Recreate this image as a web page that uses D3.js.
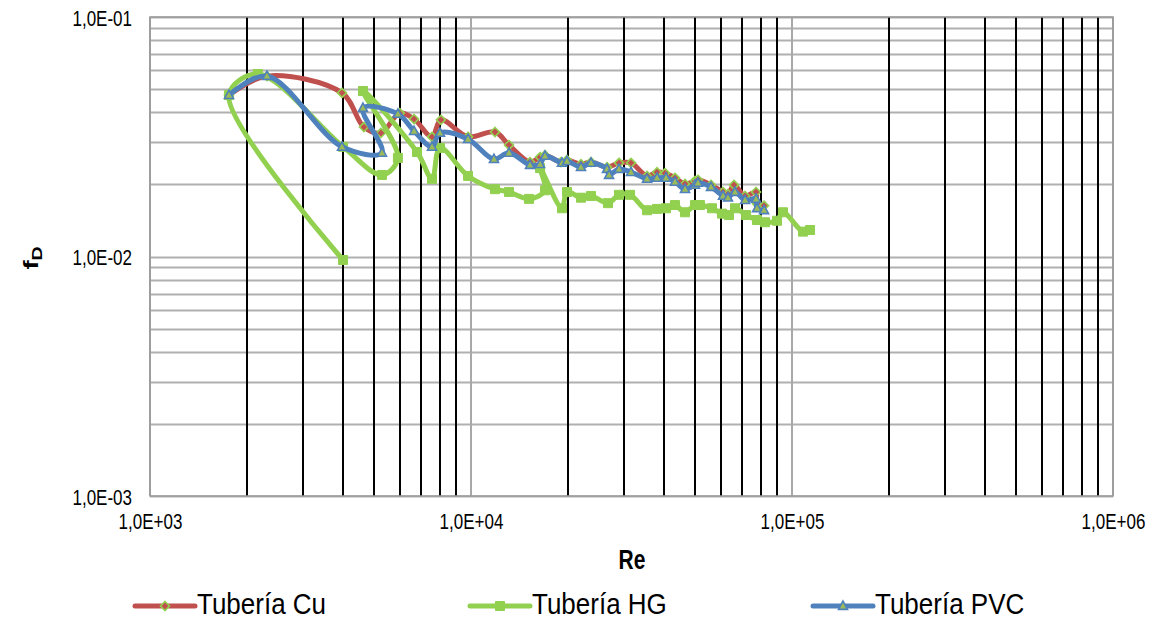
<!DOCTYPE html>
<html><head><meta charset="utf-8">
<script src="https://cdn.jsdelivr.net/npm/d3@7"></script>
<style>body{margin:0;background:#fff}</style>
</head><body><svg id="c" width="1160" height="620"></svg>
<script>
const seriesNames = ["Tubería Cu", "Tubería HG", "Tubería PVC"];
const xTickLabels = ["1,0E+03", "1,0E+04", "1,0E+05", "1,0E+06"];
const yTickLabels = ["1,0E-03", "1,0E-02", "1,0E-01"];

const cuRe = [1762,2314,3964,4640,5240,6000,6645,7560,8060,9790,11880,13130,15270,16410,17000,19070,19910,22010,23650,26530,28920,31510,35350,37970,40220,43200,46420,49860,50950,55930,60960,63180,65960,71410,77270,77800,81830];
const cuF  = [0.0472,0.0567,0.0482,0.0347,0.0328,0.0397,0.0375,0.0316,0.0372,0.0316,0.0331,0.0292,0.0248,0.0260,0.0265,0.0248,0.0253,0.0243,0.0248,0.0236,0.0246,0.0246,0.0217,0.0225,0.0223,0.0213,0.0201,0.0207,0.0209,0.0199,0.0186,0.0182,0.0199,0.0179,0.0186,0.0166,0.0163];

const hgRe = [3993,1762,2169,3993,5281,5920,4608,6790,7560,8006,9790,11880,13130,15160,17000,16410,19210,19910,22010,23650,26720,28920,31290,35350,37970,40510,43200,46420,49860,51680,56330,60520,63640,66440,71920,77800,82410,89810,93750,108200,113800];
const hgF  = [0.00967,0.0472,0.0578,0.0287,0.0219,0.0258,0.0491,0.0273,0.0211,0.0284,0.0217,0.0191,0.0186,0.0174,0.0189,0.0234,0.0159,0.0186,0.0176,0.0179,0.0167,0.0181,0.0181,0.0156,0.0158,0.0159,0.0164,0.0153,0.0164,0.0164,0.0159,0.0151,0.0149,0.0159,0.0149,0.0142,0.0139,0.0141,0.0153,0.0127,0.0129];

const pvcRe = [1762,2314,3964,5281,4608,5920,6645,7560,8006,9790,11790,13130,15270,16410,17000,19210,19910,22010,23650,26530,26920,28920,31510,35350,37970,40510,43200,46420,49860,50950,55930,60960,63180,66440,71410,77270,77800,81830];
const pvcF  = [0.0472,0.0567,0.0287,0.0271,0.0417,0.0394,0.0334,0.0287,0.0328,0.0309,0.0255,0.0271,0.0241,0.0243,0.0263,0.0246,0.0250,0.0236,0.0246,0.0232,0.0219,0.0232,0.0225,0.0211,0.0213,0.0213,0.0205,0.0191,0.0199,0.0203,0.0195,0.0179,0.0176,0.0186,0.0172,0.0174,0.0159,0.0156];

const RED = "#C0504D", GREEN = "#92D050", BLUE = "#4F81BD", MGREEN = "#9BBB59";
const series = [
  {name: seriesNames[0], re: cuRe, f: cuF, color: RED, marker: "diamond"},
  {name: seriesNames[1], re: hgRe, f: hgF, color: GREEN, marker: "square"},
  {name: seriesNames[2], re: pvcRe, f: pvcF, color: BLUE, marker: "triangle"}
];

const L = 150, R = 1113, T = 17, B = 496;
const x = d3.scaleLog().domain([1e3, 1e6]).range([L, R]);
const y = d3.scaleLog().domain([1e-3, 1e-1]).range([B, T]);
const svg = d3.select("#c");
const FONT = "Liberation Sans, Arial, sans-serif";
const SY = 1.3;

const isMajor = v => Math.abs(Math.log10(v) - Math.round(Math.log10(v))) < 1e-9;

// horizontal gridlines (all gray)
svg.append("g").selectAll("line").data(y.ticks()).join("line")
  .attr("x1", L).attr("x2", R)
  .attr("y1", d => Math.round(y(d)) + 0.5).attr("y2", d => Math.round(y(d)) + 0.5)
  .attr("stroke", "#b0b0b0").attr("stroke-width", 2);
// vertical gridlines: minor black, major gray
svg.append("g").selectAll("line").data(x.ticks()).join("line")
  .attr("x1", d => Math.round(x(d))).attr("x2", d => Math.round(x(d)))
  .attr("y1", T).attr("y2", B)
  .attr("stroke", d => isMajor(d) ? "#a8a8a8" : "#000")
  .attr("stroke-width", 2);
// frame
svg.append("rect").attr("x", L).attr("y", T).attr("width", R - L).attr("height", B - T)
  .attr("fill", "none").attr("stroke", "#9a9a9a").attr("stroke-width", 1.5);

// axes (labels only)
const xAxis = d3.axisBottom(x).tickValues([1e3, 1e4, 1e5, 1e6])
  .tickFormat((d, i) => xTickLabels[i]).tickSize(0);
const gx = svg.append("g").attr("transform", `translate(0,${B})`).call(xAxis);
gx.select(".domain").remove();
gx.selectAll("text").attr("y", 0).attr("dy", 0)
  .attr("transform", `translate(0,33) scale(1,${SY})`)
  .attr("font-family", FONT).attr("font-size", 17).attr("fill", "#000");

const yAxis = d3.axisLeft(y).tickValues([1e-3, 1e-2, 1e-1])
  .tickFormat((d, i) => yTickLabels[i]).tickSize(0);
const gy = svg.append("g").attr("transform", `translate(${L},0)`).call(yAxis);
gy.select(".domain").remove();
gy.selectAll("text").attr("x", 0).attr("dy", 0).attr("y", 0)
  .attr("transform", `translate(-18,8) scale(1,${SY})`)
  .attr("font-family", FONT).attr("font-size", 17).attr("fill", "#000");

// axis titles
svg.append("text").attr("transform", `translate(632,569) scale(1,${SY})`)
  .attr("text-anchor", "middle").attr("font-family", FONT).attr("font-weight", "bold")
  .attr("font-size", 21).text("Re");
const yt = svg.append("text").attr("transform", `translate(38,258) rotate(-90) scale(${SY},1)`)
  .attr("text-anchor", "middle").attr("font-family", FONT).attr("font-weight", "bold")
  .attr("font-size", 21);
yt.append("tspan").text("f");
yt.append("tspan").attr("font-size", 15).attr("dy", 4).text("D");

// series
const plot = svg.append("g");
const line = d3.line().x(d => x(d[0])).y(d => y(d[1])).curve(d3.curveCatmullRom.alpha(0.5));

function markerPath(type, s) {
  if (type === "diamond") return `M0,${-s}L${s},0L0,${s}L${-s},0Z`;
  if (type === "square") return `M${-s},${-s}H${s}V${s}H${-s}Z`;
  return `M0,${-s * 1.1}L${s},${s * 0.75}L${-s},${s * 0.75}Z`;
}
function markerStyle(sel, sr) {
  if (sr.marker === "diamond") sel.attr("fill", RED).attr("stroke", GREEN).attr("stroke-width", 1.6);
  else if (sr.marker === "square") sel.attr("fill", GREEN).attr("stroke", GREEN).attr("stroke-width", 1);
  else sel.attr("fill", MGREEN).attr("stroke", BLUE).attr("stroke-width", 1.6);
}

series.forEach(sr => {
  const pts = sr.re.map((r, i) => [r, sr.f[i]]);
  const g = plot.append("g");
  g.append("path").attr("d", line(pts)).attr("fill", "none")
    .attr("stroke", sr.color).attr("stroke-width", 5)
    .attr("stroke-linejoin", "round").attr("stroke-linecap", "round");
  const m = g.selectAll("path.m").data(pts).join("path").attr("class", "m")
    .attr("transform", d => `translate(${x(d[0])},${y(d[1])})`)
    .attr("d", markerPath(sr.marker, 4.5));
  markerStyle(m, sr);
});

// legend
const legX = [135, 470, 813];
series.forEach((sr, i) => {
  const g = svg.append("g").attr("transform", `translate(${legX[i]},606)`);
  g.append("line").attr("x1", 0).attr("x2", 60).attr("y1", 0).attr("y2", 0)
    .attr("stroke", sr.color).attr("stroke-width", 5).attr("stroke-linecap", "round");
  const m = g.append("path").attr("transform", "translate(30,0)")
    .attr("d", markerPath(sr.marker, 4.5));
  markerStyle(m, sr);
  g.append("text").attr("transform", `translate(62,8) scale(1,1.15)`)
    .attr("font-family", FONT).attr("font-size", 26).text(sr.name);
});
</script></body></html>
